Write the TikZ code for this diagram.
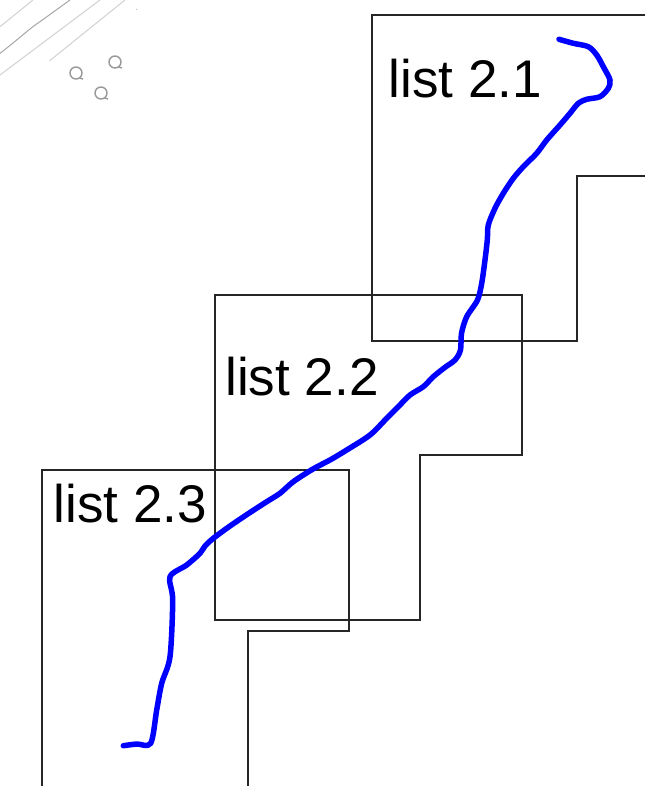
\documentclass[tikz,border=0pt]{standalone}
\usepackage{fontspec}
\setmainfont{Liberation Sans}
\begin{document}
\begin{tikzpicture}[x=1pt,y=-1pt,
  frame/.style={draw=black!85,line width=1.4pt,line join=miter},
  lbl/.style={inner sep=0pt,anchor=base west,font=\fontsize{53}{60}\selectfont},
  ink/.style={draw=blue,line width=5.5pt,line cap=round,line join=round},
  deco/.style={draw=black!18,line width=1pt},
  qmark/.style={draw=black!40,line width=1.4pt}]
\useasboundingbox (0,0) rectangle (645,786);
% faint decorations
\draw[deco] (0,26.7) -- (33,0);
\draw[deco,draw=black!35] (0,53.3) .. controls (20,38) and (30,28) .. (40,21.7) -- (70,0);
\draw[deco] (0,75) -- (100,0);
\draw[deco] (49.3,61) -- (125,0);
\fill[black!30] (136.7,9.3) circle (0.6);
\foreach \p in {(76,73),(115,62),(101,93)}{
  \draw[qmark] \p circle (6);
  \draw[qmark] \p ++(3.5,5) -- ++(3.5,1);
}
% frames
\draw[frame] (645,15) -- (372,15) -- (372,341) -- (577,341) -- (577,176) -- (645,176);
\draw[frame] (215,295) -- (522,295) -- (522,455) -- (420,455) -- (420,620) -- (215,620) -- cycle;
\draw[frame] (42,786) -- (42,470) -- (349,470) -- (349,631) -- (248,631) -- (248,786);
% labels
\node[lbl] (l21) at (388.5,97.7) {list 2.1};
\node[lbl] (l22) at (225.2,395.7) {list 2.2};
\node[lbl] (l23) at (53.5,522.7) {list 2.3};
% blue stroke
\draw[ink] plot[smooth,tension=0.5] coordinates {
(559,39.3) (573.3,43.3) (588.3,46.7) (596.7,55) (603.3,66.7) (610,80) (608.3,88.3)
(600,96.7) (586.7,99.3) (578.3,103.3) (570,113.3) (560,125) (546.7,140) (536.7,153.3)
(523.3,166.7) (513.3,178.3) (503.3,193.3) (495,208.3) (488.3,225) (487.3,240) (485,260)
(481.7,283.3) (477.5,300) (466.7,316.7) (461.5,333.3) (460.5,350) (455,360) (445,367.3)
(433.3,376.7) (423.3,386.7) (410,395) (398.3,406.7) (386.7,418.3) (370,435) (346.7,450)
(330,460) (313,469) (293.3,481.7) (280,493.3) (266.7,501.7) (250,512.5) (230,526)
(213.3,538.3) (205,546) (200,553.3) (186.7,565) (170,576.7) (172.7,600) (170,656.7)
(161.7,683.3) (156.7,710) (150.7,743.3) (136.7,744) (123.3,745.7)};
\end{tikzpicture}
\end{document}
